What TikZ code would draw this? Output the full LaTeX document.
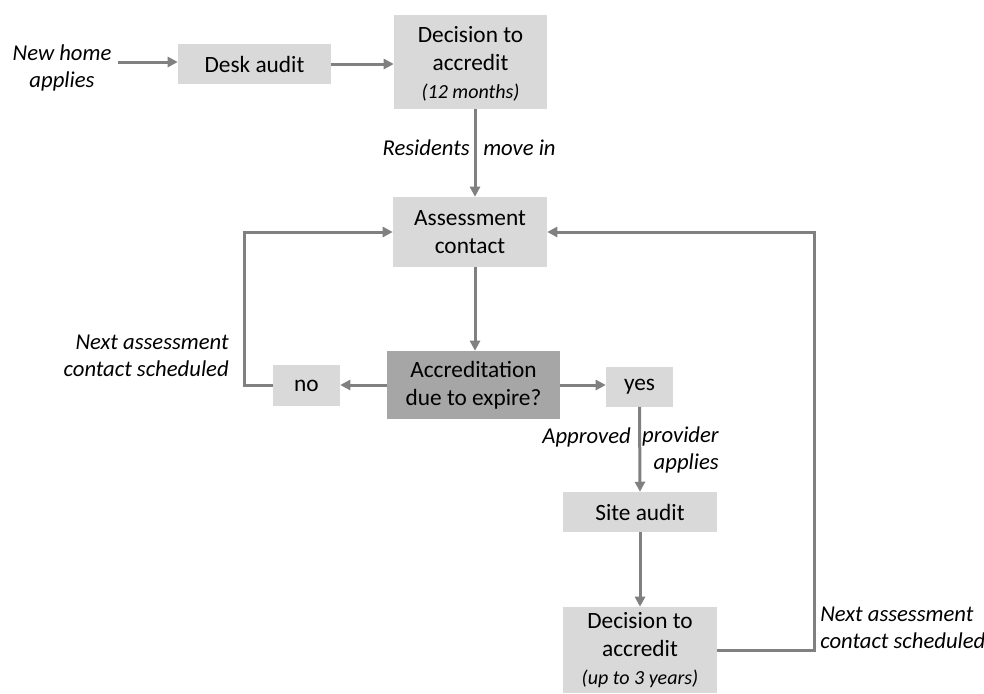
\documentclass[tikz,border=0pt]{standalone}
\usepackage{fontspec}
\setmainfont{Carlito}
\usetikzlibrary{arrows.meta,calc}
\definecolor{boxgray}{HTML}{D9D9D9}
\definecolor{darkbox}{HTML}{A6A6A6}
\definecolor{linegray}{HTML}{808080}
\begin{document}
\begin{tikzpicture}[x=0.75pt,y=-0.75pt,
  box/.style={fill=boxgray, inner sep=0pt, align=center, font=\fontsize{17.5}{21}\selectfont},
  conn/.style={draw=linegray, line width=2.25pt, -{Triangle[length=7.5pt,width=7.5pt]}},
  lbl/.style={font=\fontsize{17}{20}\selectfont\itshape, inner sep=0pt},
  small/.style={font=\fontsize{15}{21}\selectfont\itshape}
]
\useasboundingbox (0,0) rectangle (984,693);

% boxes
\node[box, minimum width=114.75pt, minimum height=30pt] (desk) at (254.5,64) {Desk audit};
\node[box, minimum width=114.75pt, minimum height=70.5pt] (dec1) at (470.5,62)
  {\rule{0pt}{15pt}Decision to\\accredit\\{\fontsize{15}{21}\selectfont\itshape (12 months)}};
\node[box, minimum width=115.5pt, minimum height=52.5pt] (assess) at (470,232) {Assessment\\contact};
\node[box, fill=darkbox, minimum width=129.75pt, minimum height=51pt] (accr) at (473.5,385) {Accreditation\\due to expire?};
\node[box, minimum width=50.25pt, minimum height=30.75pt] (no) at (306.5,385.5) {no};
\node[box, minimum width=50.25pt, minimum height=30pt] (yes) at (639.5,386.5) {yes};
\node[box, minimum width=115.5pt, minimum height=30pt] (site) at (640,512) {Site audit};
\node[box, minimum width=115.5pt, minimum height=64.5pt] (dec2) at (640,650)
  {Decision to\\accredit\\{\fontsize{15}{21}\selectfont\itshape (up to 3 years)}};

% labels
\node[lbl, align=center] (newhome) at (62,68) {New home\\applies};
\node[lbl, anchor=east] (resA) at (470,148) {Residents};
\node[lbl, anchor=west] (resB) at (483,148) {move in};
\node[lbl, anchor=east] (appA) at (631,437) {Approved};
\node[lbl, anchor=east, align=right] (appB) at (719,450) {provider\\applies};
\node[lbl, anchor=east, align=right] (nextL) at (229,356) {Next assessment\\contact scheduled};
\node[lbl, anchor=west, align=left] (nextR) at (820,628) {Next assessment\\contact scheduled};

\coordinate (vx) at (475,0);

% connectors
\draw[conn] ($(newhome.east |- desk.west)+(6,-2)$) -- ($(desk.west)+(0,-2)$);
\draw[conn] (desk.east) -- (desk.east -| dec1.west);
\draw[conn] (vx |- dec1.south) -- (vx |- assess.north);
\draw[conn] (vx |- assess.south) -- (vx |- accr.north);
\draw[conn] (accr.west) -- (accr.west -| no.east);
\draw[conn] (accr.east) -- (accr.east -| yes.west);
\draw[conn] (no.west) -- ++(-28,0) |- (assess.west);
\draw[conn] (yes.south) -- (site.north);
\draw[conn] (site.south) -- (dec2.north);
\draw[conn] (dec2.east) -- ++(97,0) |- (assess.east);
\end{tikzpicture}
\end{document}
